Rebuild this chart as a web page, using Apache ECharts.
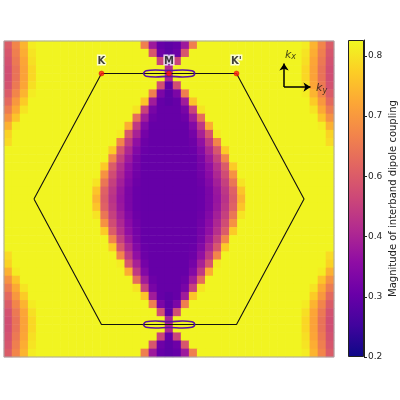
<!DOCTYPE html>
<html><head><meta charset="utf-8">
<script src="https://cdn.jsdelivr.net/npm/echarts@6/dist/echarts.min.js"></script>
<style>html,body{margin:0;padding:0;background:#fff}#c{width:400px;height:400px}</style>
</head><body><div id="c"></div>
<script>
// Upper-right quadrant of the map (rows: top edge -> centre row; cols: centre col -> right edge).
// The field is mirror-symmetric left/right and top/bottom.
const quadrantRows = [
  [0.29,0.30,0.38,0.66,0.82,0.82,0.82,0.82,0.82,0.82,0.82,0.82,0.82,0.82,0.82,0.82,0.82,0.81,0.74,0.67,0.60],
  [0.29,0.31,0.58,0.82,0.82,0.82,0.82,0.82,0.82,0.82,0.82,0.82,0.82,0.82,0.82,0.82,0.82,0.80,0.73,0.66,0.58],
  [0.30,0.52,0.82,0.82,0.82,0.82,0.82,0.82,0.82,0.82,0.82,0.82,0.82,0.82,0.82,0.82,0.82,0.795,0.72,0.65,0.565],
  [0.42,0.82,0.82,0.82,0.82,0.82,0.82,0.82,0.82,0.82,0.82,0.82,0.82,0.82,0.82,0.82,0.82,0.785,0.715,0.64,0.55],
  [0.40,0.82,0.82,0.82,0.82,0.82,0.82,0.82,0.82,0.82,0.82,0.82,0.82,0.82,0.82,0.82,0.82,0.785,0.715,0.64,0.55],
  [0.29,0.55,0.82,0.82,0.82,0.82,0.82,0.82,0.82,0.82,0.82,0.82,0.82,0.82,0.82,0.82,0.82,0.795,0.72,0.65,0.565],
  [0.29,0.33,0.66,0.82,0.82,0.82,0.82,0.82,0.82,0.82,0.82,0.82,0.82,0.82,0.82,0.82,0.82,0.81,0.74,0.67,0.60],
  [0.29,0.30,0.385,0.76,0.82,0.82,0.82,0.82,0.82,0.82,0.82,0.82,0.82,0.82,0.82,0.82,0.82,0.82,0.77,0.70,0.625],
  [0.30,0.30,0.325,0.51,0.80,0.82,0.82,0.82,0.82,0.82,0.82,0.82,0.82,0.82,0.82,0.82,0.82,0.82,0.80,0.725,0.655],
  [0.30,0.30,0.31,0.385,0.63,0.82,0.82,0.82,0.82,0.82,0.82,0.82,0.82,0.82,0.82,0.82,0.82,0.82,0.82,0.76,0.69],
  [0.30,0.30,0.30,0.34,0.475,0.73,0.82,0.82,0.82,0.82,0.82,0.82,0.82,0.82,0.82,0.82,0.82,0.82,0.82,0.81,0.735],
  [0.30,0.30,0.30,0.32,0.395,0.58,0.81,0.82,0.82,0.82,0.82,0.82,0.82,0.82,0.82,0.82,0.82,0.82,0.82,0.82,0.78],
  [0.30,0.30,0.30,0.31,0.36,0.48,0.67,0.82,0.82,0.82,0.82,0.82,0.82,0.82,0.82,0.82,0.82,0.82,0.82,0.82,0.79],
  [0.30,0.30,0.30,0.305,0.34,0.41,0.58,0.77,0.82,0.82,0.82,0.82,0.82,0.82,0.82,0.82,0.82,0.82,0.82,0.82,0.82],
  [0.30,0.30,0.30,0.30,0.325,0.38,0.50,0.67,0.82,0.82,0.82,0.82,0.82,0.82,0.82,0.82,0.82,0.82,0.82,0.82,0.82],
  [0.30,0.30,0.30,0.30,0.32,0.36,0.44,0.60,0.77,0.82,0.82,0.82,0.82,0.82,0.82,0.82,0.82,0.82,0.82,0.82,0.82],
  [0.30,0.30,0.30,0.30,0.315,0.35,0.41,0.545,0.69,0.82,0.82,0.82,0.82,0.82,0.82,0.82,0.82,0.82,0.82,0.82,0.82],
  [0.30,0.30,0.30,0.30,0.31,0.34,0.39,0.50,0.645,0.80,0.82,0.82,0.82,0.82,0.82,0.82,0.82,0.82,0.82,0.82,0.82],
  [0.30,0.30,0.30,0.30,0.305,0.33,0.375,0.47,0.61,0.76,0.82,0.82,0.82,0.82,0.82,0.82,0.82,0.82,0.82,0.82,0.82],
  [0.30,0.30,0.30,0.30,0.305,0.33,0.37,0.45,0.60,0.74,0.82,0.82,0.82,0.82,0.82,0.82,0.82,0.82,0.82,0.82,0.82]
];
// Brillouin zone (ky horizontal, kx vertical)
const hexagon = [[-1,0],[-0.5,0.866],[0.5,0.866],[1,0],[0.5,-0.866],[-0.5,-0.866],[-1,0]];
const highSymNames = ['K','M',"K'"];
const highSymPoints = [[-0.5,0.866],[0,0.866],[0.5,0.866]];
// small loop around M (offsets from M)
const mLoopShape = [[-0.19,0],[-0.17,0.019],[-0.1,0.024],[0,0.02],[0.1,0.024],[0.17,0.019],[0.19,0],[0.17,-0.019],[0.1,-0.024],[0,-0.02],[-0.1,-0.024],[-0.17,-0.019],[-0.19,0]];
const mCentres = [[0,0.866],[0,-0.866]];
// axis-direction arrows
const arrowOrigin = [0.852,0.772];
const arrowKxEnd = [0.852,0.935];
const arrowKyEnd = [1.048,0.772];
const kxLabelPos = [0.9,0.995];
const kyLabelPos = [1.13,0.766];
// colour bar
const colorbarTicks = [0.2,0.3,0.4,0.6,0.7,0.8];
const colorbarTickPos = [0,0.19,0.38,0.57,0.76,0.95];
const colorbarMax = 0.8263;
const plasmaStops = ['#0d0887','#41049d','#6a00a8','#8f0da4','#b12a90','#cc4778','#e16462','#f2844b','#fca636','#fcce25','#f0f921'];

function hexToRgb(h){return [parseInt(h.slice(1,3),16),parseInt(h.slice(3,5),16),parseInt(h.slice(5,7),16)];}
function plasma(t){t=Math.max(0,Math.min(1,t));const s=t*10;const i=Math.min(9,Math.floor(s));const f=s-i;
  const a=hexToRgb(plasmaStops[i]),b=hexToRgb(plasmaStops[i+1]);
  return 'rgb('+a.map((c,k)=>Math.round(c+(b[k]-c)*f)).join(',')+')';}
function valueToT(v){const vs=colorbarTicks.concat([colorbarMax]);const ts=colorbarTickPos.concat([1]);
  if(v<=vs[0])return 0;for(let i=1;i<vs.length;i++){if(v<=vs[i])return ts[i-1]+(ts[i]-ts[i-1])*(v-vs[i-1])/(vs[i]-vs[i-1]);}return 1;}

const nQR = quadrantRows.length, nQC = quadrantRows[0].length;
const nRows = 2*nQR-1, nCols = 2*nQC-1;
const heat = [];
for(let i=0;i<nRows;i++){const p=i<nQR?i:nRows-1-i;
  for(let j=0;j<nCols;j++){const q=Math.abs(j-(nQC-1));heat.push([j,nRows-1-i,quadrantRows[p][q]]);}}
const xCats=[],yCats=[];for(let j=0;j<nCols;j++)xCats.push(j);for(let i=0;i<nRows;i++)yCats.push(i);

const vmColors=[];for(let k=0;k<=100;k++){const v=0.2+(colorbarMax-0.2)*k/100;vmColors.push(plasma(valueToT(v)));}

const loops = mCentres.map(c=>mLoopShape.map(o=>[c[0]+o[0],c[1]+o[1]]));

const chart = echarts.init(document.getElementById('c'),null,{renderer:'canvas'});
const G = {left:4,top:41,width:330,height:316};
chart.setOption({
  animation:false,
  backgroundColor:'#fff',
  grid:[
    Object.assign({},G),
    Object.assign({show:true,backgroundColor:'transparent',borderColor:'#a8a8a8',borderWidth:1,z:6},G),
    {left:348,top:40,width:16,height:317}
  ],
  xAxis:[
    {gridIndex:0,type:'category',data:xCats,show:false},
    {gridIndex:1,type:'value',min:-1.222,max:1.222,show:false},
    {gridIndex:2,type:'category',data:[''],show:false}
  ],
  yAxis:[
    {gridIndex:0,type:'category',data:yCats,show:false},
    {gridIndex:1,type:'value',min:-1.09,max:1.09,show:false},
    {gridIndex:2,type:'value',min:0,max:1,position:'right',
     axisLine:{show:true,lineStyle:{color:'#222',width:1}},
     axisTick:{show:true,length:3,customValues:colorbarTickPos,lineStyle:{color:'#222'}},
     axisLabel:{show:true,customValues:colorbarTickPos,fontSize:9,color:'#222',margin:4,fontFamily:'DejaVu Sans',
       formatter:function(v){for(let i=0;i<colorbarTickPos.length;i++){if(Math.abs(colorbarTickPos[i]-v)<1e-6)return colorbarTicks[i].toFixed(1);}return '';}},
     splitLine:{show:false},
     name:'Magnitude of interband dipole coupling',nameLocation:'middle',nameRotate:90,nameGap:24,
     nameTextStyle:{fontSize:10,color:'#222',fontFamily:'DejaVu Sans'}}
  ],
  visualMap:{show:false,type:'continuous',min:0.2,max:colorbarMax,seriesIndex:0,dimension:2,inRange:{color:vmColors}},
  series:[
    {type:'heatmap',xAxisIndex:0,yAxisIndex:0,data:heat,progressive:0,emphasis:{disabled:true}},
    {type:'line',xAxisIndex:1,yAxisIndex:1,data:hexagon,symbol:'none',lineStyle:{color:'#111',width:1.1},z:5,silent:true},
    ...loops.map(l=>({type:'line',xAxisIndex:1,yAxisIndex:1,data:l,symbol:'none',smooth:0.4,lineStyle:{color:'#5b14a0',width:1.6},z:5,silent:true})),
    {type:'scatter',xAxisIndex:1,yAxisIndex:1,data:highSymPoints.map((p,i)=>({name:highSymNames[i],value:p})),
     symbolSize:5,itemStyle:{color:'#ff1a1a',borderColor:'#c00',borderWidth:0.5},z:7,
     label:{show:true,position:'top',distance:4,formatter:'{b}',fontSize:10,fontWeight:'bold',color:'#111',
       fontFamily:'DejaVu Sans',textBorderColor:'#fff',textBorderWidth:3}},
    {type:'lines',coordinateSystem:'cartesian2d',xAxisIndex:1,yAxisIndex:1,
     data:[{coords:[arrowOrigin,arrowKxEnd]},{coords:[arrowOrigin,arrowKyEnd]}],
     symbol:['none','arrow'],symbolSize:7,lineStyle:{color:'#000',width:1.5,opacity:1},z:7,silent:true},
    {type:'scatter',xAxisIndex:1,yAxisIndex:1,symbolSize:0,z:7,silent:true,
     data:[{value:kxLabelPos,name:'x'},{value:kyLabelPos,name:'y'}],
     label:{show:true,position:'inside',formatter:function(p){return '{k|k}{s|'+p.name+'}';},
       rich:{k:{fontSize:11,fontStyle:'italic',color:'#111',fontFamily:'DejaVu Sans'},
             s:{fontSize:8,fontStyle:'italic',color:'#111',fontFamily:'DejaVu Sans',verticalAlign:'bottom',padding:[5,0,0,0]}}}},
    {type:'bar',xAxisIndex:2,yAxisIndex:2,data:[1],barWidth:'100%',silent:true,
     itemStyle:{color:{type:'linear',x:0,y:1,x2:0,y2:0,colorStops:plasmaStops.map((c,i)=>({offset:i/10,color:c}))},borderColor:'#222',borderWidth:1}}
  ]
});
</script></body></html>
